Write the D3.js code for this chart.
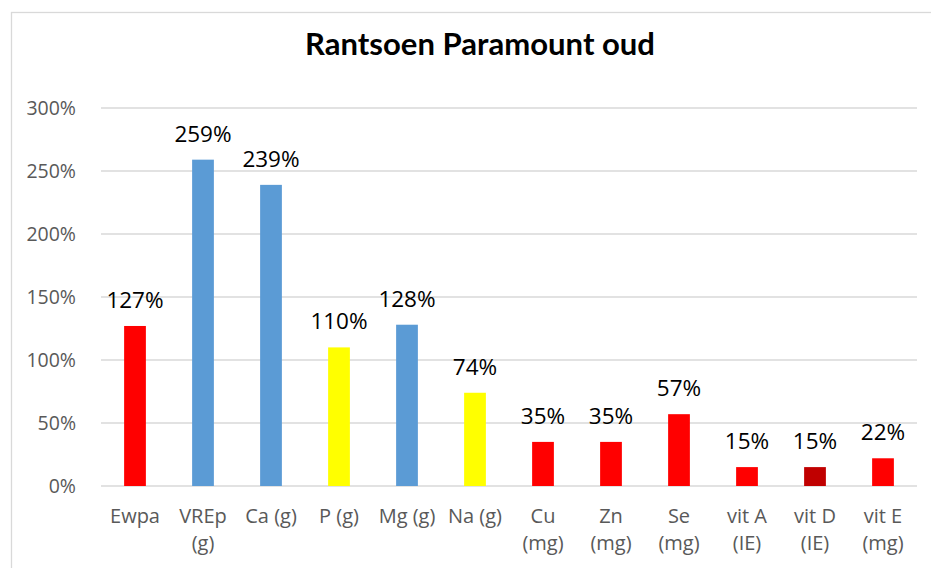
<!DOCTYPE html>
<html>
<head>
<meta charset="utf-8">
<script src="https://cdn.jsdelivr.net/npm/d3@7"></script>
<style>
  html, body { margin: 0; padding: 0; background: #fff; }
  svg { display: block; }
</style>
</head>
<body>
<svg id="chart" width="931" height="568"></svg>
<script>
const title = "Rantsoen Paramount oud";
const categories = [["Ewpa"], ["VREp", "(g)"], ["Ca (g)"], ["P (g)"], ["Mg (g)"], ["Na (g)"],
  ["Cu", "(mg)"], ["Zn", "(mg)"], ["Se", "(mg)"], ["vit A", "(IE)"], ["vit D", "(IE)"], ["vit E", "(mg)"]];
const values = [1.27, 2.59, 2.39, 1.10, 1.28, 0.74, 0.35, 0.35, 0.57, 0.15, 0.15, 0.22];
const barColors = ["#FF0000", "#5B9BD5", "#5B9BD5", "#FFFF00", "#5B9BD5", "#FFFF00",
  "#FF0000", "#FF0000", "#FF0000", "#FF0000", "#C00000", "#FF0000"];
const yTicks = [0, 0.5, 1, 1.5, 2, 2.5, 3];

const svg = d3.select("#chart");
const font = "'Open Sans', 'Liberation Sans', sans-serif";

// frame
svg.append("rect").attr("x", 11.5).attr("y", 12.5).attr("width", 940).attr("height", 600)
  .attr("fill", "#fff").attr("stroke", "#d9d9d9").attr("stroke-width", 1.3);

const plot = { left: 101, right: 917, top: 108, bottom: 486 };

const x = d3.scaleBand().domain(d3.range(categories.length))
  .range([plot.left, plot.right]).paddingInner(0.68).paddingOuter(0.34);
const y = d3.scaleLinear().domain([0, 3]).range([plot.bottom, plot.top]);

// gridlines
svg.append("g").selectAll("line").data(yTicks).join("line")
  .attr("x1", plot.left).attr("x2", plot.right)
  .attr("y1", d => y(d)).attr("y2", d => y(d))
  .attr("stroke", "#d9d9d9").attr("stroke-width", 1.3);

// y axis labels
const fmt = d3.format(".0%");
svg.append("g").selectAll("text").data(yTicks).join("text")
  .attr("x", 76).attr("y", d => y(d)).attr("dy", "0.36em")
  .attr("text-anchor", "end").attr("font-family", font).attr("font-size", 19.5)
  .attr("fill", "#595959").text(d => fmt(d));

// bars
svg.append("g").selectAll("rect").data(values).join("rect")
  .attr("x", (d, i) => x(i)).attr("width", x.bandwidth())
  .attr("y", d => y(d)).attr("height", d => y(0) - y(d))
  .attr("fill", (d, i) => barColors[i]);

// data labels
svg.append("g").selectAll("text").data(values).join("text")
  .attr("x", (d, i) => x(i) + x.bandwidth() / 2)
  .attr("y", d => y(d) - 18)
  .attr("text-anchor", "middle").attr("font-family", font).attr("font-size", 22.5)
  .attr("fill", "#000").text(d => fmt(d));

// category labels
const cat = svg.append("g").selectAll("text").data(categories).join("text")
  .attr("text-anchor", "middle").attr("font-family", font).attr("font-size", 20)
  .attr("fill", "#595959");
cat.each(function(lines, i) {
  d3.select(this).selectAll("tspan").data(lines).join("tspan")
    .attr("x", x(i) + x.bandwidth() / 2)
    .attr("y", (l, j) => 523 + j * 27)
    .text(l => l);
});

// title
svg.append("text").attr("x", 480).attr("y", 55).attr("text-anchor", "middle")
  .attr("font-family", "Lato, 'DejaVu Sans', sans-serif").attr("font-weight", "bold")
  .attr("font-size", 30).attr("fill", "#000")
  .attr("textLength", 350).attr("lengthAdjust", "spacingAndGlyphs")
  .text(title);
</script>
</body>
</html>
